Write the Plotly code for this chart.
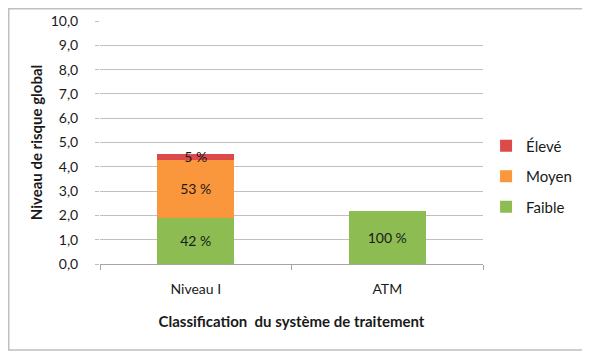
import plotly.graph_objects as go

categories = ["Niveau I", "ATM"]
faible = [1.9, 2.2]
moyen = [2.4, 0]
eleve = [0.22, 0]
faible_lbl = ["42 %", "100 %"]
moyen_lbl = ["53 %", ""]
eleve_lbl = ["5 %", ""]

FONT = "Lato"
TXT = "#1a1a1a"
fig = go.Figure()
for rank, (name, vals, lbl, col) in zip([3, 2, 1], [
    ("Faible", faible, faible_lbl, "#8DBD52"),
    ("Moyen", moyen, moyen_lbl, "#FA963C"),
    ("Élevé", eleve, eleve_lbl, "#DD4A4A"),
]):
    fig.add_trace(go.Bar(
        x=categories, y=vals, name=name, legendgroup=name, legendrank=rank,
        marker=dict(color=col, line=dict(width=0)),
        text=lbl, textposition="inside", insidetextanchor="middle",
        constraintext="none", textangle=0,
        textfont=dict(family=FONT, size=14, color=TXT),
        hoverinfo="skip",
    ))

# page has an 8px body margin; figure is sized to fit the 590x358 window
OFF = 8
W, H = 590 - OFF, 358 - OFF
L, R, T, B = 100 - OFF, 107, 21 - OFF, 94
pw, ph = W - L - R, H - T - B

def px_x(x):
    return (x - L) / pw

def px_y(y):
    return (H - B - y) / ph

fig.update_layout(
    width=W, height=H, barmode="stack", bargap=0.6,
    margin=dict(l=L, r=R, t=T, b=B, autoexpand=False),
    paper_bgcolor="white", plot_bgcolor="white",
    separators=",.",
    font=dict(family=FONT, size=14, color=TXT),
    legend=dict(traceorder="grouped", x=1.008, y=0.36, xanchor="left", yanchor="middle",
                font=dict(family=FONT, size=15, color=TXT),
                itemwidth=30, tracegroupgap=8, bgcolor="rgba(0,0,0,0)"),
    xaxis=dict(
        showgrid=False, showline=True, linecolor="#A6A6A6", linewidth=1,
        ticks="outside", tickson="boundaries", ticklen=5, tickcolor="#A6A6A6",
        ticklabelstandoff=12,
        tickfont=dict(family=FONT, size=14, color=TXT),
        title=dict(text="<b>Classification  du système de traitement</b>",
                   font=dict(family=FONT, size=15, color=TXT), standoff=20),
    ),
    yaxis=dict(
        range=[0, 10], dtick=1, tickformat=".1f",
        showgrid=True, gridcolor="#BFBFBF", gridwidth=1,
        showline=False, zeroline=False,
        ticks="outside", ticklen=4, tickcolor="#BFBFBF",
        ticklabelstandoff=14,
        tickfont=dict(family=FONT, size=14, color=TXT),
        title=dict(text="<b>Niveau de risque global</b>",
                   font=dict(family=FONT, size=15, color=TXT), standoff=4),
    ),
    shapes=[dict(type="rect", xref="paper", yref="paper",
                 x0=px_x(0.75), x1=px_x(583 - OFF),
                 y0=px_y(350 - OFF), y1=px_y(0.75),
                 line=dict(color="#BFBFBF", width=1.5), fillcolor="rgba(0,0,0,0)", layer="below")],
)

fig.write_html("out.html")
